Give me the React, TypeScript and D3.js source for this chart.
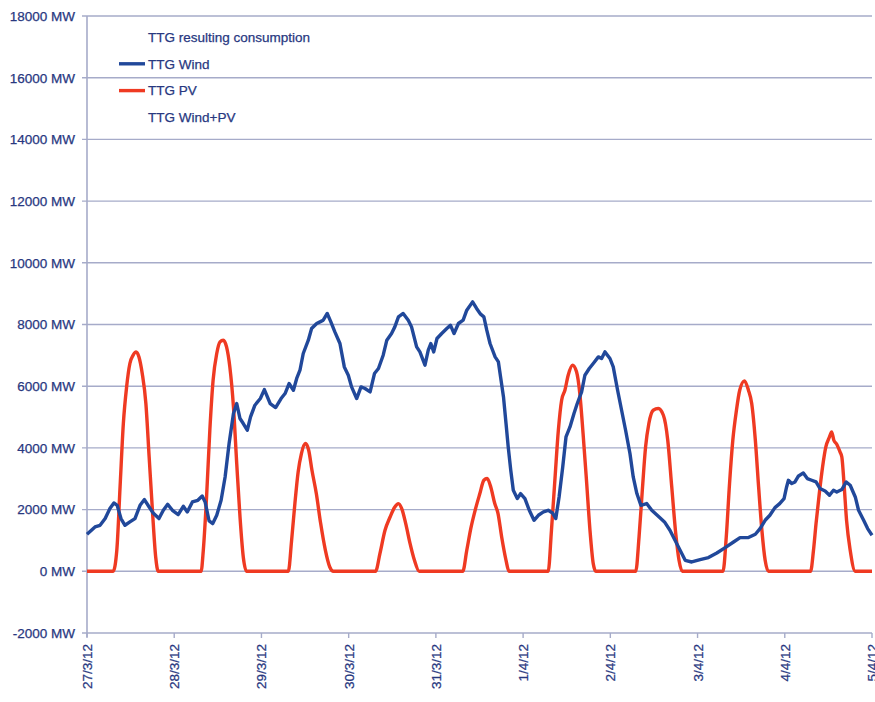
import React from "react";
import * as d3 from "d3";

const dateLabels = ["27/3/12", "28/3/12", "29/3/12", "30/3/12", "31/3/12", "1/4/12", "2/4/12", "3/4/12", "4/4/12", "5/4/12"];
const yTicks = [-2000, 0, 2000, 4000, 6000, 8000, 10000, 12000, 14000, 16000, 18000];
const legendItems = [
  { label: "TTG resulting consumption", color: null },
  { label: "TTG Wind", color: "#21489a" },
  { label: "TTG PV", color: "#ef3a22" },
  { label: "TTG Wind+PV", color: null },
];

// hours since 27/3/12 00:00
const windHours = [0, 2.2, 3.6, 5, 6.3, 7.4, 8.3, 9.35, 10.45, 11.8, 13.2, 14.6, 15.8, 17.1, 18.2, 19.8, 21, 22.2, 23.5, 25.1, 26.5, 27.6, 29, 30.5, 31.7, 32.5, 33.6, 34.6, 35.7, 36.9, 38, 39.1, 40.3, 41.2, 42.1, 43, 44.1, 45, 46.2, 47.7, 48.8, 50.4, 51.9, 53.4, 54.5, 55.6, 56.8, 57.7, 58.6, 59.5, 60.9, 61.8, 63.2, 64.1, 65, 66.1, 67.1, 68.2, 69.6, 70.8, 71.9, 72.8, 74.2, 75.4, 76.5, 77.9, 79.1, 80.2, 81.5, 82.5, 83.8, 84.7, 85.7, 87, 88.4, 89.3, 90.7, 91.6, 93, 93.9, 94.6, 95.4, 96.3, 97.6, 99, 100, 101, 102.2, 103.5, 104.5, 106.1, 107.2, 108.3, 109.2, 110, 110.9, 112.3, 113.2, 113.8, 114.6, 115.3, 115.9, 116.6, 117.3, 118.4, 119.3, 120.5, 121.7, 123, 124.2, 125.6, 126.9, 128.1, 129, 129.9, 130.9, 131.8, 132.9, 134, 134.9, 136.1, 137, 138.2, 139.3, 140.7, 141.6, 142.5, 143.9, 144.8, 146, 147.1, 148.2, 149.4, 150.3, 151.3, 152.4, 154, 155.4, 157.2, 158.9, 160.4, 161.8, 163.2, 164.6, 166.4, 168.7, 171, 173.3, 175.6, 177.9, 179.7, 182, 183.9, 185.2, 186.6, 187.9, 189.3, 190.6, 191.8, 192.5, 193, 193.9, 194.8, 195.7, 197.1, 198.2, 199.4, 200.6, 201.7, 203.1, 204.3, 205.4, 206.3, 207.7, 208.9, 210, 211.4, 212.3, 213.7, 214.8, 216];
const windMW = [1200, 1437, 1492, 1709, 2033, 2215, 2140, 1709, 1492, 1600, 1709, 2140, 2325, 2085, 1890, 1709, 1978, 2173, 1978, 1838, 2108, 1924, 2248, 2302, 2443, 2248, 1631, 1546, 1816, 2302, 3058, 4141, 5114, 5439, 4952, 4790, 4573, 5004, 5384, 5600, 5890, 5439, 5309, 5600, 5763, 6087, 5870, 6250, 6518, 7060, 7491, 7870, 8033, 8085, 8140, 8357, 8085, 7760, 7384, 6625, 6356, 5977, 5600, 5977, 5925, 5815, 6411, 6573, 7005, 7491, 7708, 7923, 8247, 8357, 8140, 7923, 7274, 7112, 6681, 7167, 7384, 7112, 7546, 7708, 7870, 7978, 7708, 8033, 8140, 8464, 8733, 8519, 8335, 8247, 7816, 7384, 6950, 6788, 6302, 5652, 4790, 4031, 3275, 2627, 2357, 2520, 2357, 1978, 1654, 1816, 1924, 1978, 1890, 1709, 2410, 3382, 4355, 4680, 5114, 5439, 5815, 6356, 6573, 6736, 6950, 6898, 7112, 6898, 6625, 5870, 5221, 4573, 3817, 3058, 2520, 2140, 2195, 1978, 1784, 1600, 1330, 1005, 681, 357, 302, 379, 444, 593, 769, 950, 1093, 1093, 1200, 1384, 1654, 1816, 2065, 2195, 2357, 2733, 2950, 2844, 2896, 3080, 3188, 3006, 2950, 2896, 2682, 2604, 2465, 2627, 2572, 2650, 2896, 2789, 2410, 1978, 1654, 1384, 1168];

const pvHours = [0, 7.2, 8.2, 9.1, 10, 10.9, 11.8, 12.7, 13.5, 14.3, 15.2, 16.2, 17.1, 18, 18.9, 19.6, 31.4, 32, 32.9, 33.8, 34.7, 35.7, 36.6, 37.5, 38.4, 39.3, 40.3, 41.2, 42.1, 43, 43.9, 55.4, 56.3, 57.2, 58.1, 59, 60.1, 61, 61.9, 63.1, 64.3, 65.6, 66.8, 67.8, 79.4, 80.6, 82, 83.4, 84.7, 85.7, 86.6, 87.7, 88.9, 90.1, 91.4, 103.4, 104.5, 105.6, 106.8, 108.1, 109.2, 110.1, 111.1, 112.2, 113.1, 114.1, 115.3, 116.1, 126.9, 127.8, 128.8, 129.7, 130.6, 131.5, 132.4, 133.6, 134.7, 135.6, 136.5, 137.5, 138.4, 139.3, 140, 151, 151.9, 152.8, 153.7, 154.6, 155.8, 157.2, 158.6, 159.8, 160.9, 162, 162.9, 163.8, 175, 175.9, 176.8, 177.7, 178.7, 179.6, 180.9, 182, 182.9, 183.9, 184.8, 185.7, 186.6, 187.5, 199.1, 199.9, 200.6, 201.5, 202.4, 203.3, 204.3, 204.9, 205.5, 206.3, 207.2, 207.7, 208.3, 209, 210, 211.4, 216];
const pvMW = [0, 0, 681, 2734, 4790, 5977, 6736, 7005, 7112, 6950, 6411, 5439, 3707, 1978, 464, 0, 0, 681, 2410, 4573, 6194, 7060, 7436, 7491, 7274, 6625, 5330, 3493, 1761, 464, 0, 0, 1005, 2195, 3220, 3817, 4141, 3924, 3275, 2520, 1546, 681, 140, 0, 0, 574, 1330, 1761, 2085, 2195, 2033, 1546, 898, 357, 0, 0, 681, 1384, 1978, 2520, 2950, 3006, 2734, 2195, 1871, 1112, 357, 0, 0, 1330, 3058, 4573, 5546, 5870, 6356, 6681, 6465, 5763, 4465, 2844, 1330, 249, 0, 0, 1112, 2627, 4031, 4790, 5221, 5276, 5059, 4248, 2734, 1222, 357, 0, 0, 1112, 2844, 4248, 5221, 5870, 6172, 5870, 5439, 4248, 2734, 1330, 357, 0, 0, 681, 1546, 2520, 3382, 4031, 4355, 4518, 4248, 4119, 3869, 3707, 2844, 1654, 681, 0, 0];

const W = 875;
const H = 702;
const left = 87;
const right = 872;
const top = 16;
const bottom = 633;
const textColor = "#28387f";
const gridColor = "#a6abc9";
const font = "'Liberation Sans', Arial, sans-serif";

export default function App() {
  const x = d3.scaleLinear().domain([0, 216]).range([left, right]);
  const y = d3.scaleLinear().domain([-2000, 18000]).range([bottom, top]);

  const windLine = d3
    .line<number>()
    .x((_, i) => x(windHours[i]))
    .y((d) => y(d))
    .curve(d3.curveLinear);
  const pvLine = d3
    .line<number>()
    .x((_, i) => x(pvHours[i]))
    .y((d) => y(d))
    .curve(d3.curveMonotoneX);

  return (
    <svg width={W} height={H} style={{ position: "absolute", left: 0, top: 0, background: "#fff" }} fontFamily={font}>
      {yTicks.map((t) => (
        <line key={"g" + t} x1={left - 5} x2={right} y1={y(t)} y2={y(t)} stroke={gridColor} strokeWidth={1.4} />
      ))}
      <line x1={left} x2={left} y1={top} y2={bottom + 4} stroke={gridColor} strokeWidth={1.6} />
      {dateLabels.map((d, i) => (
        <line key={"xt" + d} x1={x(i * 24)} x2={x(i * 24)} y1={bottom} y2={bottom + 5} stroke={gridColor} strokeWidth={1.4} />
      ))}
      {yTicks.map((t) => (
        <text key={"yl" + t} x={75} y={y(t)} dy="0.36em" textAnchor="end" fontSize={13.5} fill={textColor} stroke={textColor} strokeWidth={0.25}>
          {`${t} MW`}
        </text>
      ))}
      {dateLabels.map((d, i) => (
        <text
          key={"xl" + d}
          transform={`translate(${x(i * 24) + 5},${bottom + 11}) rotate(-90)`}
          textAnchor="end"
          fontSize={13.5}
          fill={textColor}
          stroke={textColor}
          strokeWidth={0.25}
        >
          {d}
        </text>
      ))}
      <path d={pvLine(pvMW) || ""} fill="none" stroke="#ef3a22" strokeWidth={3.4} strokeLinejoin="round" />
      <path d={windLine(windMW) || ""} fill="none" stroke="#21489a" strokeWidth={3.4} strokeLinejoin="round" />
      {legendItems.map((it, i) => {
        const cy = 37 + i * 26.8;
        return (
          <g key={it.label}>
            {it.color && <line x1={119} x2={145} y1={cy} y2={cy} stroke={it.color} strokeWidth={3.4} />}
            <text x={148} y={cy} dy="0.36em" fontSize={13.5} fill={textColor} stroke={textColor} strokeWidth={0.25}>
              {it.label}
            </text>
          </g>
        );
      })}
    </svg>
  );
}
